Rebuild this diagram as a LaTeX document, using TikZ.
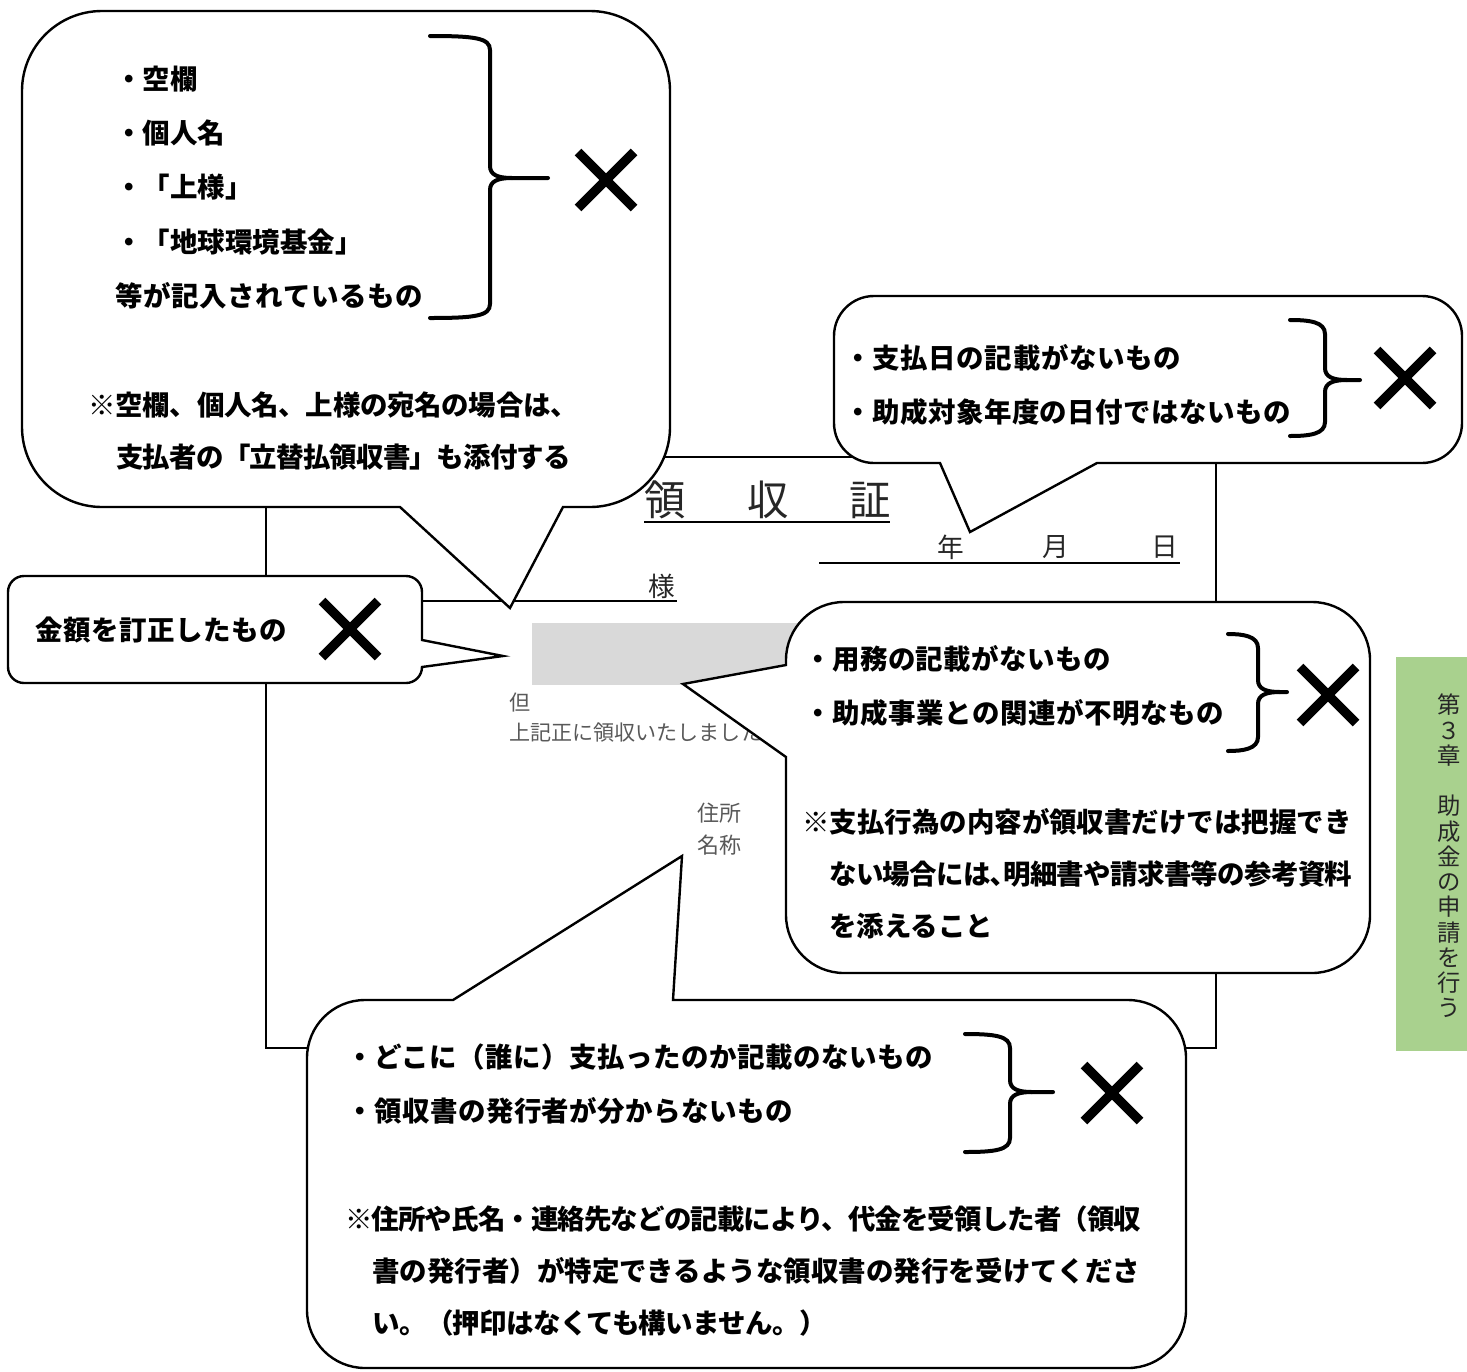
\documentclass[tikz,border=0pt]{standalone}
\usepackage{fontspec}
\newfontfamily\jp{Noto Sans CJK JP}
\newcommand{\jbf}{\jp\bfseries\fontsize{20.6}{24}\selectfont}
\newcommand{\XCross}[3]{\draw[xm] ({#1-#3},{#2-#3}) -- ({#1+#3},{#2+#3}) ({#1-#3},{#2+#3}) -- ({#1+#3},{#2-#3});}
\newcommand{\RBrace}[6]{%
  \draw[brc] (#1,#4) .. controls ({#2-15},#4) and (#2,{#4+2}) .. (#2,{#4+14}) -- (#2,{#5-12}) .. controls (#2,{#5-3}) and ({#2+8},#5) .. ({#2+22},#5) -- (#3,#5);
  \draw[brc] ({#2+22},#5) .. controls ({#2+8},#5) and (#2,{#5+3}) .. (#2,{#5+12}) -- (#2,{#6-14}) .. controls (#2,{#6-2}) and ({#2-15},#6) .. (#1,#6);}
\begin{document}
\begin{tikzpicture}[x=0.75pt,y=-0.75pt,
  co/.style={draw=black, line width=1.8pt, fill=white, line join=miter},
  frm/.style={line width=1.3pt},
  brc/.style={line width=3pt, line cap=round},
  xm/.style={line width=7pt},
  lbl/.style={anchor=west, inner sep=0pt, font=\jbf},
  lsp/.style={font={\jbf\addfontfeature{LetterSpace=#1}}},
  rc/.style={inner sep=0pt, text=black!85, font=\jp\fontsize{20}{22}\selectfont},
  rs/.style={inner sep=0pt, anchor=west, text=black!65, font=\jp\fontsize{15.8}{18}\selectfont}]
\path[use as bounding box] (0,0) rectangle (1467,1371);

% receipt frame
\draw[frm] (266,457) rectangle (1216,1048);
\node[rc, font=\jp\fontsize{31}{34}\selectfont] (r1) at (665,500) {領};
\node[rc, font=\jp\fontsize{31}{34}\selectfont] (r2) at (768,500) {収};
\node[rc, font=\jp\fontsize{31}{34}\selectfont] (r3) at (870,500) {証};
\draw[line width=1.6pt] (644,522) -- (890,522);
\draw[frm] (819,563) -- (1180,563);
\node[rc] (yr) at (951,547) {年};
\node[rc] (mo) at (1056,547) {月};
\node[rc] (dy) at (1165,547) {日};
\node[rc] (sama) at (662,586) {様};
\draw[frm] (266,601) -- (677,601);
\fill[black!15] (532,623) rectangle (812,685);
\node[rs] (tada) at (509,703) {但};
\node[rs] (jouki) at (509,733) {上記正に領収いたしました。};
\node[rs, font=\jp\fontsize{16.5}{18}\selectfont] (jusho) at (697,813) {住所};
\node[rs, font=\jp\fontsize{16.5}{18}\selectfont] (meisho) at (697,845) {名称};

% callout 1
\draw[co] (102,11) -- (590,11) arc[start angle=270,end angle=360,radius=80] -- (670,427) arc[start angle=0,end angle=90,radius=80] -- (563,507) -- (510,608) -- (400,507) -- (102,507) arc[start angle=90,end angle=180,radius=80] -- (22,91) arc[start angle=180,end angle=270,radius=80] -- cycle;
% callout 2
\draw[co] (874,296) -- (1422,296) arc[start angle=270,end angle=360,radius=40] -- (1462,423) arc[start angle=0,end angle=90,radius=40] -- (1097,463) -- (970,532) -- (940,463) -- (874,463) arc[start angle=90,end angle=180,radius=40] -- (834,336) arc[start angle=180,end angle=270,radius=40] -- cycle;
% callout 3
\draw[co] (24,576) -- (406,576) arc[start angle=270,end angle=360,radius=16] -- (422,640) -- (503,656) -- (422,667) arc[start angle=0,end angle=90,radius=16] -- (24,683) arc[start angle=90,end angle=180,radius=16] -- (8,592) arc[start angle=180,end angle=270,radius=16] -- cycle;
% callout 4
\draw[co] (844,602) -- (1312,602) arc[start angle=270,end angle=360,radius=58] -- (1370,915) arc[start angle=0,end angle=90,radius=58] -- (844,973) arc[start angle=90,end angle=180,radius=58] -- (786,915) -- (786,757) -- (683,684) -- (786,665) -- (786,660) arc[start angle=180,end angle=270,radius=58] -- cycle;
% callout 5
\draw[co] (365,1000) -- (453,1000) -- (682,856) -- (673,1000) -- (1128,1000) arc[start angle=270,end angle=360,radius=58] -- (1186,1310) arc[start angle=0,end angle=90,radius=58] -- (365,1368) arc[start angle=90,end angle=180,radius=58] -- (307,1058) arc[start angle=180,end angle=270,radius=58] -- cycle;

% callout 1 text
\node[lbl] (a1) at (115,79) {・空欄};
\node[lbl] (a2) at (115,133) {・個人名};
\node[lbl] (a3) at (115,187) {・「上様」};
\node[lbl] (a4) at (115,242) {・「地球環境基金」};
\node[lbl, lsp=2.3] (a5) at (115,296) {等が記入されているもの};
\node[lbl, lsp=-1] (a6) at (88,405) {※空欄、個人名、上様の宛名の場合は、};
\node[lbl, lsp=-2.8] (a7) at (116,457) {支払者の「立替払領収書」も添付する};
\RBrace{430}{490}{548}{36}{178}{318}
\XCross{606}{180}{28}

% callout 2 text
\node[lbl, lsp=2.4] (b1) at (844,358) {・支払日の記載がないもの};
\node[lbl, lsp=1.8] (b2) at (844,412) {・助成対象年度の日付ではないもの};
\RBrace{1290}{1325}{1360}{320}{380}{436}
\XCross{1405}{378}{28}

% callout 3 text
\node[lbl, lsp=2] (c1) at (35,630) {金額を訂正したもの};
\XCross{350}{629}{28}

% callout 4 text
\node[lbl, lsp=1.7] (d1) at (804,659) {・用務の記載がないもの};
\node[lbl, lsp=2.2] (d2) at (804,713) {・助成事業との関連が不明なもの};
\node[lbl] (d3) at (802,822) {※支払行為の内容が領収書だけでは把握でき};
\node[lbl, lsp=-2.4] (d4) at (829,874) {ない場合には､明細書や請求書等の参考資料};
\node[lbl] (d5) at (829,926) {を添えること};
\RBrace{1228}{1258}{1287}{634}{692}{751}
\XCross{1328}{695}{28}

% callout 5 text
\node[lbl, lsp=2] (e1) at (346,1057) {・どこに（誰に）支払ったのか記載のないもの};
\node[lbl, lsp=1.8] (e2) at (346,1111) {・領収書の発行者が分からないもの};
\node[lbl, lsp=-3.3] (e3) at (345,1219) {※住所や氏名・連絡先などの記載により、代金を受領した者（領収};
\node[lbl] (e4) at (372,1271) {書の発行者）が特定できるような領収書の発行を受けてくださ};
\node[lbl, lsp=-2.1] (e5) at (372,1323) {い。（押印はなくても構いません。）};
\RBrace{965}{1010}{1053}{1034}{1092}{1152}
\XCross{1112}{1093}{28}

% side tab
\fill[fill={rgb,255:red,169;green,209;blue,142}] (1396,657) rectangle (1467,1051);
\node[inner sep=0pt, align=center, text=black!85, font=\jp\fontsize{17.5}{18.94}\selectfont] (tab) at (1449,856) {第\\３\\章\\\mbox{}\\助\\成\\金\\の\\申\\請\\を\\行\\う};
\end{tikzpicture}
\end{document}
